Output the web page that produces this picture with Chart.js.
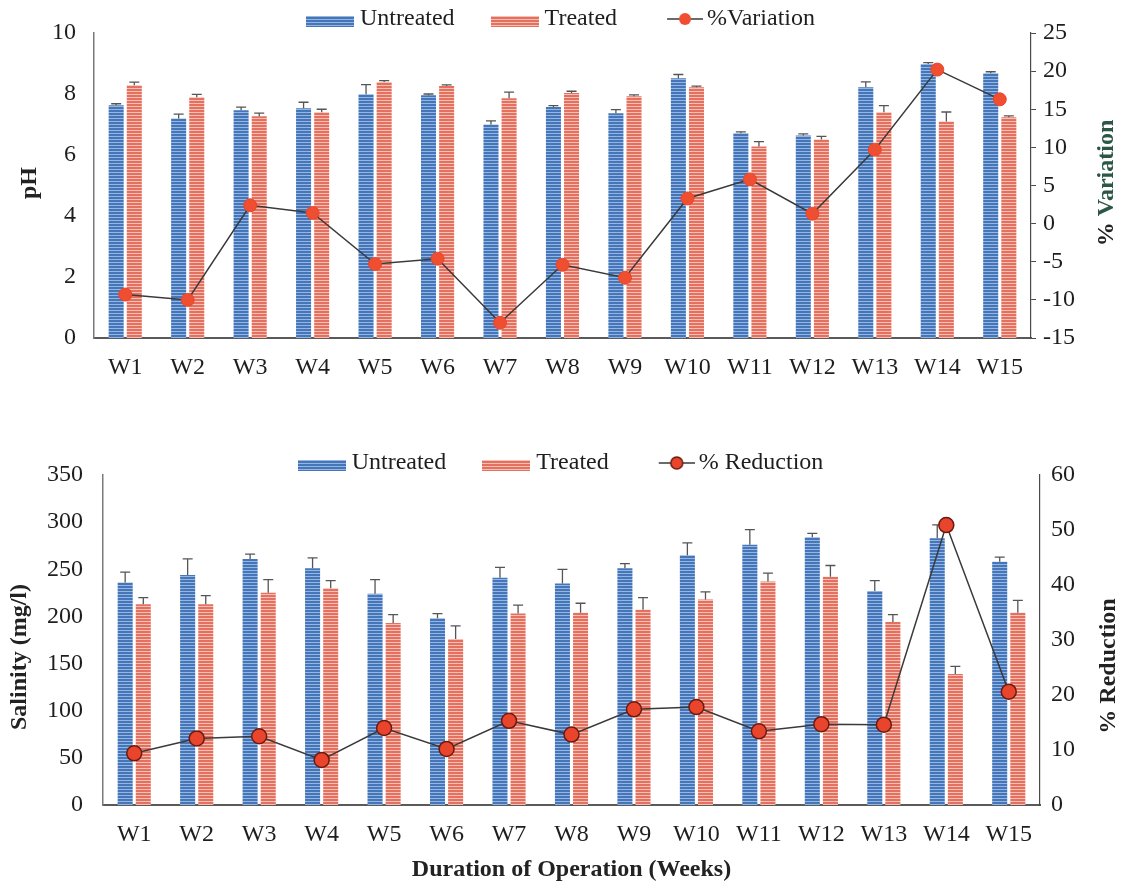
<!DOCTYPE html>
<html>
<head>
<meta charset="utf-8">
<title>pH and salinity, untreated vs treated</title>
<script src="https://cdn.jsdelivr.net/npm/chart.js@4.4.1/dist/chart.umd.min.js"></script>
<style>
  body { margin: 0; background: #fff; }
  #wrap { position: relative; width: 1127px; height: 887px; }
  canvas { position: absolute; left: 0; }
  #phChart { top: 0; }
  #salChart { top: 440px; }
</style>
</head>
<body>
<div id="wrap">
  <canvas id="phChart" width="1127" height="400"></canvas>
  <canvas id="salChart" width="1127" height="447"></canvas>
</div>
<script>
const weeks = ['W1', 'W2', 'W3', 'W4', 'W5', 'W6', 'W7', 'W8', 'W9', 'W10', 'W11', 'W12', 'W13', 'W14', 'W15'];

// pH per week
const phUntreated = [7.63, 7.2, 7.47, 7.53, 7.99, 7.96, 7.0, 7.57, 7.37, 8.52, 6.71, 6.64, 8.22, 8.98, 8.68];
const phTreated = [8.29, 7.89, 7.27, 7.4, 8.39, 8.26, 7.86, 8.03, 7.93, 8.22, 6.28, 6.51, 7.4, 7.1, 7.24];
const phUntreatedErr = [0.05, 0.14, 0.1, 0.2, 0.32, 0.04, 0.12, 0.05, 0.12, 0.12, 0.05, 0.05, 0.18, 0.05, 0.05];
const phTreatedErr = [0.1, 0.1, 0.1, 0.1, 0.05, 0.04, 0.2, 0.06, 0.04, 0.04, 0.16, 0.1, 0.22, 0.31, 0.04];
const phVariation = [-9.3, -10.0, 2.4, 1.4, -5.3, -4.6, -13.0, -5.4, -7.1, 3.3, 5.8, 1.3, 9.7, 20.2, 16.3];

// salinity (mg/l) per week
const salUntreated = [236, 244, 261, 251, 224, 198, 241, 235, 251, 265, 276, 284, 227, 283, 258];
const salTreated = [213, 213, 225, 230, 193, 176, 203, 204, 207, 218, 237, 242, 194, 139, 204];
const salUntreatedErr = [11, 17, 5, 11, 15, 5, 11, 15, 5, 13, 16, 4, 11, 14, 5];
const salTreatedErr = [7, 9, 14, 8, 9, 14, 9, 10, 13, 8, 9, 12, 8, 8, 13];
const salReduction = [9.4, 12.1, 12.5, 8.2, 14.0, 10.2, 15.3, 12.8, 17.4, 17.8, 13.4, 14.7, 14.6, 50.9, 20.6];

const FONT = "'Liberation Serif', 'Times New Roman', serif";
Chart.defaults.font.family = FONT;
Chart.defaults.color = '#1e1e1e';

const BLUE = '#4476b9', BLUE_LT = '#95b6e0';
const RED = '#e4715f', RED_LT = '#f8c0b5';

// horizontal pin-stripe fill for the bars
function stripePattern(base, light) {
  const c = document.createElement('canvas');
  c.width = 4; c.height = 3;
  const g = c.getContext('2d');
  g.fillStyle = base; g.fillRect(0, 0, 4, 3);
  g.fillStyle = light; g.fillRect(0, 1, 4, 1);
  return g.createPattern(c, 'repeat');
}

// legend icons
function swatchIcon(base, light) {
  const c = document.createElement('canvas');
  c.width = 48; c.height = 20;
  const g = c.getContext('2d');
  g.fillStyle = stripePattern(base, light);
  g.fillRect(0, 7, 48, 11);
  return c;
}

function lineIcon(fill, stroke) {
  const c = document.createElement('canvas');
  c.width = 52; c.height = 20;
  const g = c.getContext('2d');
  g.strokeStyle = '#3a3a3a'; g.lineWidth = 1.5;
  g.beginPath(); g.moveTo(16, 10); g.lineTo(52, 10); g.stroke();
  g.beginPath(); g.arc(34, 10, 6, 0, Math.PI * 2);
  g.fillStyle = fill; g.fill();
  if (stroke) { g.strokeStyle = stroke; g.lineWidth = 1.5; g.stroke(); }
  return c;
}

// upper error whiskers on the bar datasets
const errorBars = {
  id: 'errorBars',
  afterDatasetDraw(chart, args) {
    const ds = chart.data.datasets[args.index];
    if (!ds.errorPlus) return;
    const scale = chart.scales[args.meta.yAxisID];
    const ctx = chart.ctx;
    ctx.save();
    ctx.strokeStyle = '#555';
    ctx.lineWidth = 1.3;
    args.meta.data.forEach((bar, i) => {
      const yTop = scale.getPixelForValue(ds.data[i] + ds.errorPlus[i]);
      ctx.beginPath();
      ctx.moveTo(bar.x, bar.y);
      ctx.lineTo(bar.x, yTop);
      ctx.moveTo(bar.x - 5, yTop);
      ctx.lineTo(bar.x + 5, yTop);
      ctx.stroke();
    });
    ctx.restore();
  }
};

// rotated axis titles, reading bottom to top on both sides
const sideTitles = {
  id: 'sideTitles',
  afterDraw(chart, args, opts) {
    const ctx = chart.ctx;
    ctx.save();
    ctx.font = 'bold 24px ' + FONT;
    ctx.textBaseline = 'middle';
    ctx.textAlign = 'left';
    (opts.items || []).forEach(t => {
      const total = t.parts.reduce((w, p) => w + ctx.measureText(p[0]).width, 0);
      ctx.save();
      ctx.translate(t.x, t.y);
      ctx.rotate(-Math.PI / 2);
      let x = -total / 2;
      t.parts.forEach(([text, color]) => {
        ctx.fillStyle = color;
        ctx.fillText(text, x, 0);
        x += ctx.measureText(text).width;
      });
      ctx.restore();
    });
    ctx.restore();
  }
};

function makeChart(canvasId, s) {
  const icons = [swatchIcon(BLUE, BLUE_LT), swatchIcon(RED, RED_LT), s.lineIcon];
  return new Chart(document.getElementById(canvasId), {
    type: 'bar',
    data: {
      labels: weeks,
      datasets: [
        {
          label: 'Untreated', data: s.untreated, errorPlus: s.untreatedErr,
          backgroundColor: stripePattern(BLUE, BLUE_LT), yAxisID: 'y', order: 1,
          categoryPercentage: 0.58, barPercentage: 0.83
        },
        {
          label: 'Treated', data: s.treated, errorPlus: s.treatedErr,
          backgroundColor: stripePattern(RED, RED_LT), yAxisID: 'y', order: 1,
          categoryPercentage: 0.58, barPercentage: 0.83
        },
        {
          type: 'line', label: s.lineLabel, data: s.line, yAxisID: 'y1', order: 0,
          borderColor: '#3a3a3a', borderWidth: 1.5, tension: 0,
          pointRadius: s.pointRadius, pointBackgroundColor: s.pointFill,
          pointBorderColor: s.pointBorder, pointBorderWidth: s.pointBorderWidth
        }
      ]
    },
    options: {
      responsive: false,
      animation: false,
      layout: { padding: { top: s.padTop, left: 0, right: 0, bottom: 0 } },
      plugins: {
        legend: {
          maxHeight: s.legendHeight,
          labels: {
            usePointStyle: true,
            pointStyleWidth: 36,
            padding: 42,
            color: '#1e1e1e',
            font: { size: 24 },
            generateLabels: chart => chart.data.datasets.map((ds, i) => ({
              text: ds.label, pointStyle: icons[i], datasetIndex: i, hidden: false,
              fillStyle: 'transparent', strokeStyle: 'transparent', lineWidth: 0,
              fontColor: '#1e1e1e'
            }))
          }
        },
        tooltip: { enabled: false },
        sideTitles: { items: s.titles }
      },
      scales: {
        x: {
          grid: { display: false, drawTicks: false },
          border: { color: '#5a5a5a', width: 2 },
          ticks: { padding: 15, font: { size: 24 }, color: '#1e1e1e' },
          title: s.xTitle
            ? { display: true, text: s.xTitle, font: { size: 24, weight: 'bold' }, color: '#222', padding: { top: 0, bottom: 3 } }
            : { display: false },
          afterFit: sc => { sc.height = s.xHeight; }
        },
        y: {
          position: 'left', min: s.yMin, max: s.yMax,
          ticks: { stepSize: s.yStep, padding: s.yPad, font: { size: 24 }, color: '#1e1e1e' },
          grid: { display: false, drawTicks: false },
          border: { color: '#7a7a7a', width: 1.5 },
          afterFit: sc => { sc.width = s.leftWidth; }
        },
        y1: {
          position: 'right', min: s.y1Min, max: s.y1Max,
          ticks: { stepSize: s.y1Step, padding: s.y1Pad, font: { size: 24 }, color: '#1e1e1e' },
          grid: s.rightTicks
            ? { display: true, drawOnChartArea: false, drawTicks: true, tickLength: 5, color: '#4a4a4a', lineWidth: 1 }
            : { display: false, drawTicks: false },
          border: { color: '#4a4a4a', width: 1.2 },
          afterFit: sc => { sc.width = s.rightWidth; }
        }
      }
    },
    plugins: [errorBars, sideTitles]
  });
}

makeChart('phChart', {
  untreated: phUntreated, treated: phTreated,
  untreatedErr: phUntreatedErr, treatedErr: phTreatedErr,
  line: phVariation, lineLabel: '%Variation',
  lineIcon: lineIcon('#f04e30'),
  pointRadius: 6.5, pointFill: '#f04e30', pointBorder: '#e8452a', pointBorderWidth: 1,
  padTop: -35, legendHeight: 68,
  xHeight: 62, leftWidth: 94, rightWidth: 96,
  yMin: 0, yMax: 10, yStep: 2, yPad: 18,
  y1Min: -15, y1Max: 25, y1Step: 5, y1Pad: 7, rightTicks: true,
  titles: [
    { x: 30, y: 183, parts: [['pH', '#222']] },
    { x: 1107, y: 183, parts: [['% ', '#222'], ['Variation', '#2b5744']] }
  ]
});

makeChart('salChart', {
  untreated: salUntreated, treated: salTreated,
  untreatedErr: salUntreatedErr, treatedErr: salTreatedErr,
  line: salReduction, lineLabel: '% Reduction',
  lineIcon: lineIcon('#e8452c', '#6b1a10'),
  pointRadius: 7.5, pointFill: '#e8452c', pointBorder: '#6b1a10', pointBorderWidth: 1.5,
  padTop: -31, legendHeight: 66,
  xHeight: 82, leftWidth: 103, rightWidth: 87,
  xTitle: 'Duration of Operation (Weeks)',
  yMin: 0, yMax: 350, yStep: 50, yPad: 20,
  y1Min: 0, y1Max: 60, y1Step: 10, y1Pad: 11, rightTicks: false,
  titles: [
    { x: 20, y: 217, parts: [['Salinity (mg/l)', '#222']] },
    { x: 1109, y: 226, parts: [['% Reduction', '#222']] }
  ]
});
</script>
</body>
</html>
